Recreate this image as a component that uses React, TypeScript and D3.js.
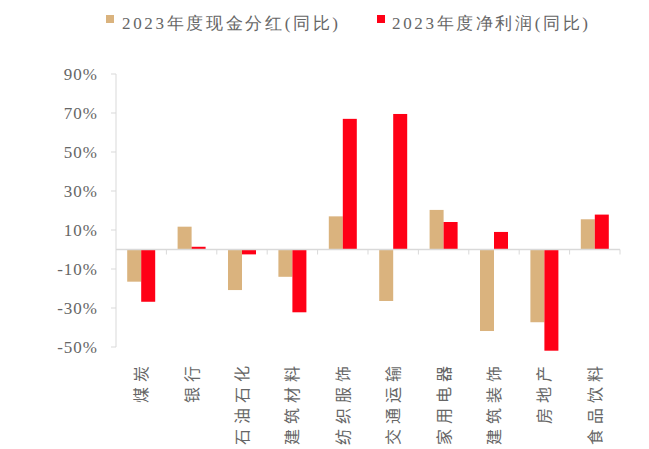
import React from "react";
import * as d3 from "d3";

const categories = ["煤炭", "银行", "石油石化", "建筑材料", "纺织服饰", "交通运输", "家用电器", "建筑装饰", "房地产", "食品饮料"];
const seriesNames = ["2023年度现金分红(同比)", "2023年度净利润(同比)"];
const cashDividend = [-16.5, 11.7, -20.8, -14.0, 17.0, -26.4, 20.3, -41.8, -37.3, 15.5];
const netProfit = [-26.8, 1.4, -2.5, -32.2, 67.0, 69.5, 14.1, 9.0, -51.9, 17.9];
const yTicks = [90, 70, 50, 30, 10, -10, -30, -50];
const colors = ["#DAB37E", "#FF0016"];

const W = 649;
const H = 449;
const serif = "Liberation Serif, DejaVu Serif, serif";

export default function App() {
  const x0 = d3.scaleBand<string>().domain(categories).range([116, 620]).padding(0);
  const x1 = d3.scaleBand<string>().domain(["a", "b"]).range([0, x0.bandwidth()]).paddingInner(0).paddingOuter(0.8);
  const y = d3.scaleLinear().domain([-50, 90]).range([347, 74]);
  const series = [cashDividend, netProfit];
  const keys = ["a", "b"];
  const textColor = "#666666";
  const axisColor = "#D9D9D9";
  const y0 = y(0);

  return (
    <svg width={W} height={H} style={{ position: "absolute", left: 0, top: 0, background: "#fff" }}>
      {/* legend */}
      <rect x={106} y={15} width={8} height={8} fill={colors[0]} />
      <text x={122} y={29} fontSize={17} fill={textColor} style={{ fontFamily: serif }} textLength={216} lengthAdjust="spacing">
        {seriesNames[0]}
      </text>
      <rect x={377} y={15} width={8} height={8} fill={colors[1]} />
      <text x={392} y={29} fontSize={17} fill={textColor} style={{ fontFamily: serif }} textLength={196} lengthAdjust="spacing">
        {seriesNames[1]}
      </text>

      {/* y axis */}
      <line x1={116} x2={116} y1={y(90)} y2={y(-50)} stroke={axisColor} strokeWidth={1} />
      {yTicks.map((t) => (
        <g key={t}>
          <line x1={111} x2={116} y1={y(t)} y2={y(t)} stroke={axisColor} />
          <text x={98} y={y(t)} dy="0.35em" textAnchor="end" fontSize={17} fill={textColor} style={{ fontFamily: serif }} letterSpacing={1}>
            {t}%
          </text>
        </g>
      ))}

      {/* bars */}
      {categories.map((c, i) => (
        <g key={c}>
          {series.map((s, j) => {
            const v = s[i];
            const top = Math.min(y(v), y0);
            const h = Math.abs(y(v) - y0);
            return <rect key={j} x={(x0(c) as number) + (x1(keys[j]) as number)} y={top} width={x1.bandwidth()} height={h} fill={colors[j]} />;
          })}
        </g>
      ))}

      {/* x axis */}
      <line x1={116} x2={620} y1={y0} y2={y0} stroke={axisColor} strokeWidth={1.5} />
      {categories.map((c, i) => (
        <line key={"t" + i} x1={(x0(c) as number) + x0.bandwidth()} x2={(x0(c) as number) + x0.bandwidth()} y1={y0} y2={y0 + 5} stroke={axisColor} />
      ))}

      {/* x labels, rotated */}
      {categories.map((c) => {
        const cx = (x0(c) as number) + x0.bandwidth() / 2;
        return (
          <text
            key={"l" + c}
            transform={`translate(${cx + 6},${361}) rotate(-90)`}
            textAnchor="end"
            fontSize={16}
            fill={textColor}
            style={{ fontFamily: "Noto Sans CJK SC, sans-serif" }}
            letterSpacing={5}
          >
            {c}
          </text>
        );
      })}
    </svg>
  );
}
